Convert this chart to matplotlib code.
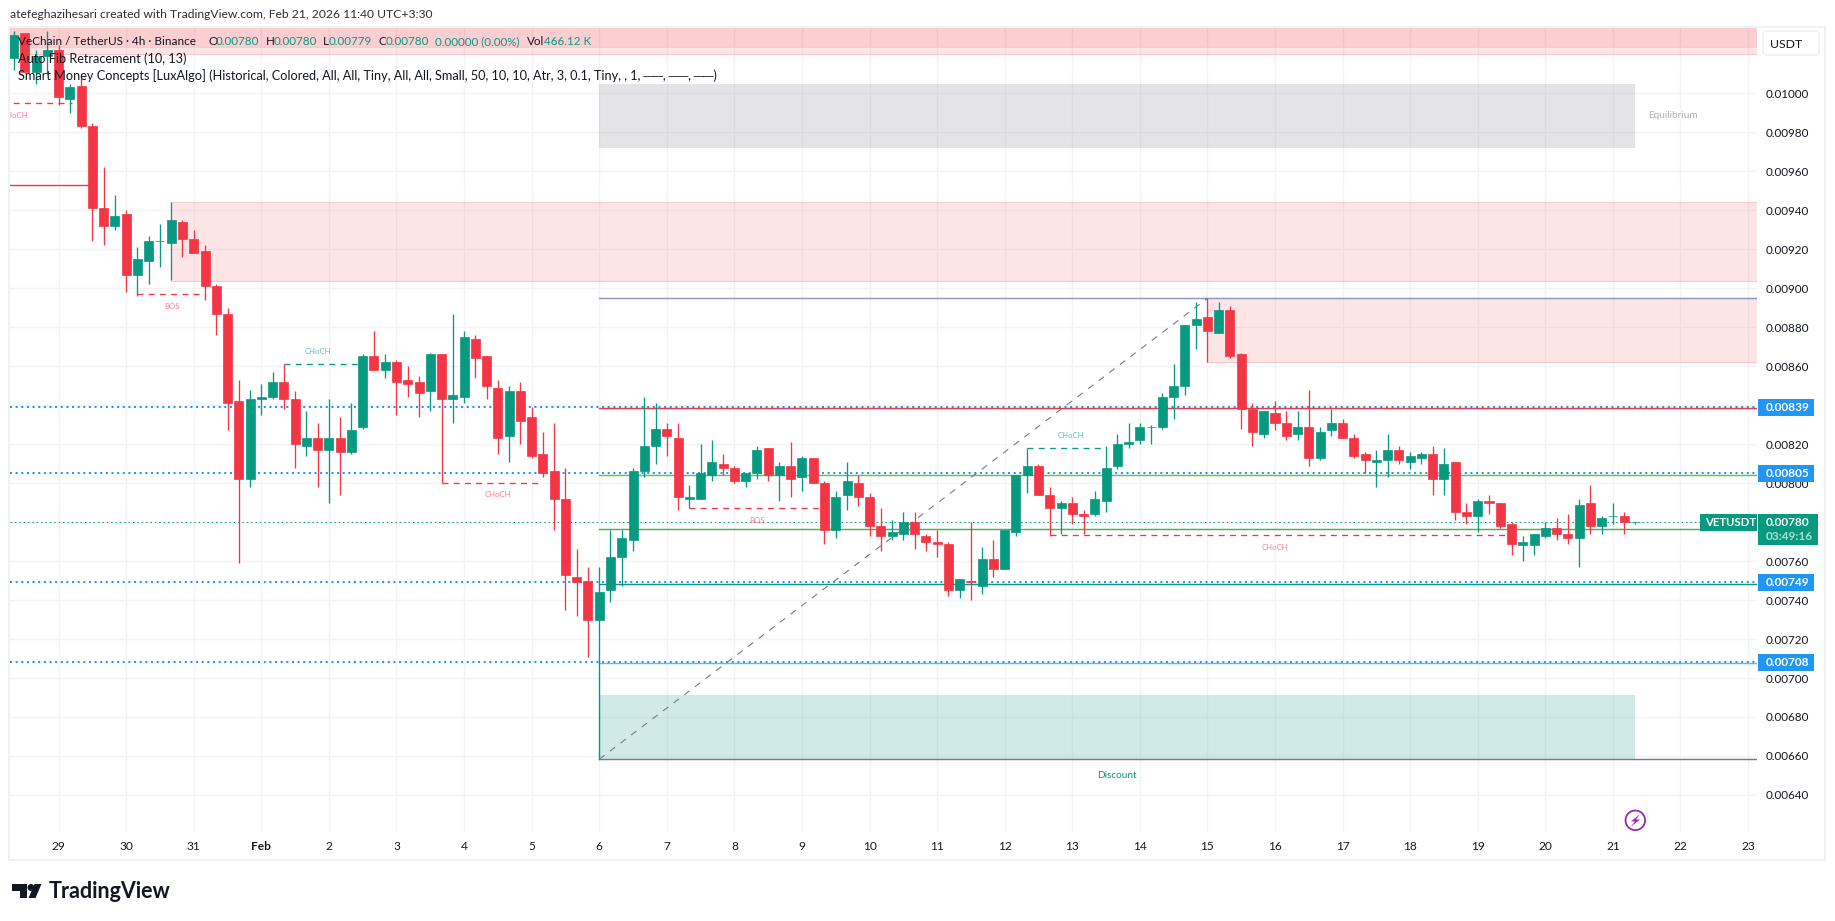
import numpy as np
import matplotlib
matplotlib.use("Agg")
import matplotlib.pyplot as plt
from matplotlib.patches import Rectangle, Circle, Polygon, FancyBboxPatch
from matplotlib.transforms import IdentityTransform

# Prices are in units of 0.00001 USDT (one tick)
opens = [1018,1031,1011,1019,1022,997,1004,983,941,932,938,907,914,924,923,934,925,919,901,887,842,802,843,844,852,843,819,823,817,823,816,829,865,858,862,853,852,847,866,843,844,874,865,849,824,847,834,815,806,792,752,750,730,745,762,771,806,819,828,823,792,792,804,810,808,801,805,818,804,809,803,813,800,776,794,800,793,778,773,774,780,773,770,769,745,750,747,761,756,775,804,809,794,787,790,784,784,791,809,820,822,829,829,844,850,881,885,877,889,866,838,825,836,831,825,829,813,827,831,823,815,811,812,817,811,813,815,802,811,785,783,791,790,779,768,768,773,777,774,772,790,778,783,783,780]
highs = [1032,1031,1022,1032,1025,1005,1009,985,962,948,940,921,927,933,944,935,930,922,902,890,853,848,851,857,861,847,837,831,843,834,841,866,878,866,863,860,855,867,866,887,878,876,865,853,850,852,839,826,831,808,766,757,757,776,776,808,844,841,831,831,799,820,822,815,809,805,819,818,811,821,814,813,801,796,811,804,795,787,781,785,785,774,776,770,751,780,767,771,776,804,818,810,798,791,793,786,796,819,825,831,831,830,846,861,881,893,895,893,891,867,841,837,842,837,837,848,829,838,833,825,816,817,825,819,816,816,819,818,811,790,792,794,790,780,773,774,780,782,784,792,799,783,790,785,780]
lows = [1012,1011,1005,1010,994,990,982,924,922,930,898,896,902,911,904,916,918,894,876,827,759,798,835,843,838,808,814,798,790,794,815,828,858,854,835,844,834,837,800,831,841,854,843,815,811,820,813,803,776,735,732,711,704,739,747,765,803,810,814,786,787,792,801,804,800,798,802,801,791,793,796,800,769,772,786,788,773,765,771,771,766,765,762,742,741,740,743,752,756,773,795,794,773,774,779,774,783,785,807,818,820,820,828,833,845,869,862,877,864,828,819,823,827,822,822,809,812,824,823,813,805,798,803,810,807,810,794,794,781,779,775,784,777,763,760,763,772,771,769,757,774,774,779,774,779]
closes = [1030,1011,1019,1022,998,1003,983,941,932,937,907,915,924,924,935,925,918,901,887,841,802,843,844,852,843,820,823,817,823,816,827,865,858,862,852,851,846,866,843,845,875,864,850,823,847,832,814,805,792,753,749,730,744,762,772,806,819,828,824,793,793,805,811,808,801,805,817,804,809,802,813,800,776,793,801,793,778,773,775,780,774,770,769,745,751,749,761,756,776,804,809,794,787,790,784,783,792,808,820,821,829,829,844,850,881,884,878,889,865,838,826,837,831,824,829,813,826,831,823,814,812,812,817,812,814,815,802,810,785,783,791,790,778,769,770,774,777,774,772,789,778,782,783,780,780]
first_bar = -4

day_labels = ["29","30","31","Feb","2","3","4","5","6","7","8","9","10","11","12","13","14","15","16","17","18","19","20","21","22","23"]
bars_per_day = 6
y_ticks = [1000,980,960,940,920,900,880,860,840,820,800,780,760,740,720,700,680,660,640]

dotted_levels = [839,805,749,708]
start_bar = 48
solid_levels = [838.3,804.3,776.3,748.4,707.5,894.8,658.3]
solid_colors = ["#f23645","#66bb6a","#4caf50","#089981","#64b5f6","#8f95c4","#787b86"]
last_price = 780

# zones: first bar, last bar (None = right edge), low, high, colour, alpha
zone_top = [(None,None,1023.6,1040,"#f23645",.13),(None,None,1020,1040,"#f23645",.13)]
zone_supply = [(10,None,903.8,944.2,"#f23645",.13),(102,None,862.1,894.8,"#f23645",.13)]
zone_eq = (48,140,972.1,1004.8,"#787b86",.2)
zone_disc = (48,140,658.3,691.3,"#089981",.19)

# structure lines: first bar, last bar, level, label, label bar, label level, colour
structure = [
 (-5,1.2,994.9,"CHoCH",-3.9,988.7,"r"),
 (7,13,896.8,"BOS",10.1,890.7,"r"),
 (20,27,861,"CHoCH",23,867.4,"g"),
 (34,43,799.9,"CHoCH",39,794.3,"r"),
 (56,68,787,"BOS",62,781,"r"),
 (86,93,817.8,"CHoCH",89.9,824.3,"g"),
 (88,129,773.2,"CHoCH",108,767,"r"),
]
old_level = (-5,3,952.8)
fib_bars = [48,102]
fib_prices = [658.3,894.8]
price_tags = [839,805,749,708]

UP="#089981"; DOWN="#f23645"; GRID="#f2f3f5"; TXT="#131722"
plt.rcParams['font.family']=['Lato','DejaVu Sans']
W,H=1835,921
fig=plt.figure(figsize=(W/100,H/100),dpi=100,facecolor="white")
L,R,T,B=10,1757,28,832
ax=fig.add_axes([L/W,1-B/H,(R-L)/W,(B-T)/H])
S=1e-5
bar0,step=58.6,11.263
ax.set_xlim((L-bar0)/step,(R-bar0)/step)
P=lambda y:(1000-(y-93.3)/1.949)*S
ax.set_ylim(P(B),P(T))
for s in ax.spines.values(): s.set_visible(False)
ax.yaxis.tick_right()
ax.set_yticks(np.array(y_ticks)*S,[f"{v*S:.5f}" for v in y_ticks])
ax.set_xticks(np.arange(len(day_labels))*bars_per_day,day_labels)
ax.tick_params(axis='y',length=0,pad=6.5,labelsize=8.4,labelcolor=TXT)
ax.tick_params(axis='x',length=0,pad=6.5,labelsize=8.6,labelcolor=TXT)
for lb in ax.get_xticklabels():
    if lb.get_text()=="Feb": lb.set_fontweight("bold")
ax.grid(True,color=GRID,lw=1.0,zorder=0)
ax.set_axisbelow(True)
xmin,xmax=ax.get_xlim()
def zone(z,edge=None):
    a,b,lo,hi,c,al=z
    a=xmin if a is None else a; b=xmax if b is None else b
    ax.add_patch(Rectangle((a,lo*S),b-a,(hi-lo)*S,fc=c,alpha=al,ec='none',zorder=1))
    if edge:
        ax.plot([a,b],[lo*S,lo*S],color=edge,lw=.8,zorder=1.1)
        ax.plot([a,b],[hi*S,hi*S],color=edge,lw=.8,zorder=1.1)
for z in zone_top: zone(z,"#f9c9cc")
for z in zone_supply: zone(z,"#f9c9cc")
zone(zone_eq); zone(zone_disc)

for lv in dotted_levels:
    ax.plot([xmin,xmax],[lv*S]*2,color="#2196f3",lw=1.45,ls=(0,(1,1.8)),dash_capstyle='butt',zorder=2)
for lv,c in zip(solid_levels,solid_colors):
    ax.plot([start_bar,xmax],[lv*S]*2,color=c,lw=1.05,zorder=2.1)
ax.plot([xmin,xmax],[last_price*S]*2,color=UP,lw=.75,ls=(0,(1.4,2.8)),zorder=2)
ax.plot([start_bar,start_bar],[658.3*S,704*S],color=UP,lw=1.0,zorder=2.2)
ax.plot(fib_bars,np.array(fib_prices)*S,color="#787b86",lw=.8,ls=(0,(6,6)),zorder=2.3)
ax.plot([old_level[0],old_level[1]],[old_level[2]*S]*2,color=DOWN,lw=1.0,zorder=2.2)

cols={"r":DOWN,"g":UP}; lab={"r":"#ff7f8b","g":"#5fbfad"}
for a,b,lv,t,lx,ly,c in structure:
    ax.plot([a,b],[lv*S]*2,color=cols[c],lw=.95,ls=(0,(4.5,4)),zorder=2.4)
    ax.text(lx,ly*S,t,color=lab[c],fontsize=5.6,ha='center',va='center',clip_on=True,zorder=2.5)

o,h,l,c=[np.array(v)*S for v in (opens,highs,lows,closes)]
xs=first_bar+np.arange(len(o))
col=[UP if cc>=oo else DOWN for oo,cc in zip(o,c)]
ax.vlines(xs,l,h,colors=col,lw=.95,zorder=3)
ax.bar(xs,np.abs(c-o),bottom=np.minimum(o,c),width=.8,color=col,edgecolor=col,lw=.5,zorder=3.1)

ax.text(141.1,988.7*S,"Equilibrium",color="#adb0ba",fontsize=7.2,va='center',zorder=4)
ax.text(94,650.2*S,"Discount",color=UP,fontsize=7.2,ha='center',va='center',zorder=4)

def text(x,y,s,**k):
    k.setdefault('color',TXT);k.setdefault('fontsize',8.4);k.setdefault('va','center')
    return fig.text(x/W,1-y/H,s,**k)
def rect(x0,y0,x1,y1,**k):
    p=Rectangle((x0,H-y1),x1-x0,y1-y0,transform=IdentityTransform(),**k)
    fig.add_artist(p); return p

# Outer frame
rect(9,27,1825,860,fc='none',ec="#f0f1f3",lw=1.4)

# Price tags
for v in price_tags:
    yd=ax.transData.transform((0,v*S))[1]; yc=H-yd
    rect(1758,yc-8.5,1814,yc+8.5,fc="#2196f3",ec='none',zorder=5)
    text(1766,yc,f"{v*S:.5f}",color="white",fontweight='bold',fontsize=8.6,zorder=6)
rect(1758,514,1818,544.7,fc=UP,ec='none',zorder=5)
text(1766,522.7,f"{last_price*S:.5f}",color="white",fontweight='bold',fontsize=8.6,zorder=6)
text(1766,536.7,"03:49:16",color="#a8e0d3",fontweight='bold',fontsize=8.6,zorder=6)
rect(1700,514,1757,531,fc=UP,ec='none',zorder=5)
text(1705,522.7,"VETUSDT",color="white",fontweight='bold',fontsize=8.2,zorder=6)

# USDT button
fig.add_artist(FancyBboxPatch((1763,H-55),56,24,boxstyle="round,pad=0,rounding_size=4",fc='white',ec="#eef0f3",lw=1.2,transform=IdentityTransform()))
text(1770,44.3,"USDT",fontsize=8.8)

# Header and legend
text(10,15,"atefeghazihesari created with TradingView.com, Feb 21, 2026 11:40 UTC+3:30",fontsize=8.7,color="#2a2e39")
text(18,41.7,"VeChain / TetherUS · 4h · Binance",fontsize=8.5,zorder=7)
for x,s,cc in [(208.4,"O",TXT),(216,"0.00780",UP),(265.7,"H",TXT),(273.6,"0.00780",UP),(323,"L",TXT),(329,"0.00779",UP),
               (378.4,"C",TXT),(385.5,"0.00780",UP),(435,"0.00000 (0.00%)",UP),(527,"Vol",TXT),(543.7,"466.12 K",UP)]:
    text(x,41.7,s,color=cc,fontsize=8.4,zorder=7)
text(18,59,"Auto Fib Retracement (10, 13)",fontsize=9.2,zorder=7)
text(18,76,"Smart Money Concepts [LuxAlgo] (Historical, Colored, All, All, Tiny, All, All, Small, 50, 10, 10, Atr, 3, 0.1, Tiny, , 1, ──, ──, ──)",fontsize=9.15,zorder=7)

# Lightning badge
fig.add_artist(Circle((1635.3,H-820.3),9.8,fc='white',ec="#9c27b0",lw=1.3,transform=IdentityTransform(),zorder=6))
fig.add_artist(Polygon([(1640,H-814),(1631,H-821.5),(1635,H-821.5),(1630.5,H-827),(1640,H-819.5),(1636,H-819.5)],closed=True,fc="#9c27b0",ec='none',transform=IdentityTransform(),zorder=7))

# Logo
LC="#131722"
fig.add_artist(Polygon([(12,H-884),(27,H-884),(27,H-898),(19.5,H-898),(19.5,H-891),(12,H-891)],closed=True,fc=LC,ec='none',transform=IdentityTransform()))
fig.add_artist(Circle((31,H-887.5),3.5,fc=LC,ec='none',transform=IdentityTransform()))
fig.add_artist(Polygon([(34.5,H-884),(41.5,H-884),(35.5,H-898),(28.5,H-898)],closed=True,fc=LC,ec='none',transform=IdentityTransform()))
text(49,891,"TradingView",fontsize=15.5,fontweight='bold',color=LC)

fig.savefig("out.png",dpi=100,facecolor="white")
